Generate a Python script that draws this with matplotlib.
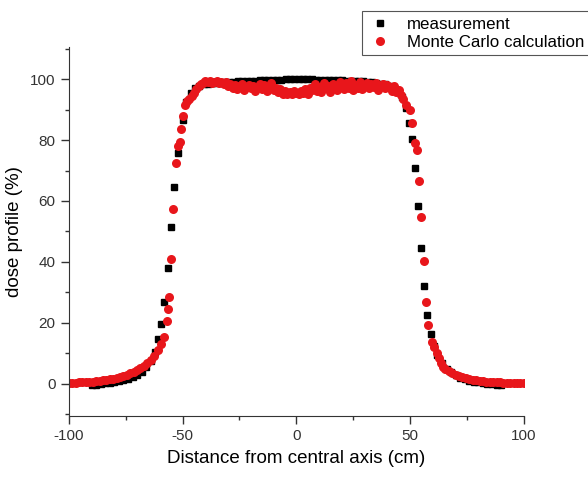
import matplotlib
matplotlib.use("Agg")
import matplotlib.pyplot as plt
from matplotlib.ticker import MultipleLocator

plt.rcParams['font.family'] = ['Liberation Sans', 'DejaVu Sans']
plt.rcParams['axes.unicode_minus'] = False

# measurement (black squares)
meas_x = [-90, -88, -86, -84, -82, -80, -78, -76, -74, -72, -70, -68, -66, -64, -62.2,
          -60.7, -59.3, -58.1, -56.6, -55.2, -53.7, -52.0, -50.0, -48.3, -46.5, -44.6,
          -42.7, -40.8, -38.9, -37.0, -35.1, -33.2, -31.3, -29.4, -27.5, -25.6, -23.7,
          -21.8, -19.9, -18.0, -16.1, -14.2, -12.3, -10.4, -8.5, -6.6, -4.7, -2.8, -0.9,
          1.0, 2.9, 4.8, 6.7, 8.6, 10.5, 12.4, 14.3, 16.2, 18.1, 20.0, 21.9, 23.8, 25.7,
          27.6, 29.5, 31.4, 33.3, 35.2, 37.1, 39.0, 40.9, 42.8, 44.7, 46.5, 48.2,
          49.6, 50.9, 52.1, 53.6, 54.9, 56.2, 57.6, 59.0, 60.5,
          62, 64, 66, 68, 70, 72, 74, 76, 78, 80, 82, 84, 86, 88, 90]
meas_y = [-0.3, -0.2, 0.0, 0.2, 0.4, 0.6, 0.9, 1.2, 1.6, 2.2, 3.0, 4.0, 5.5, 7.5, 10.5,
          14.6, 19.7, 26.8, 38.1, 51.6, 64.7, 75.6, 86.6, 92.5, 95.5, 97.2,
          97.8, 98.2, 98.4, 98.6, 98.7, 98.8, 98.9, 99.0, 99.1, 99.2, 99.3,
          99.4, 99.5, 99.5, 99.6, 99.6, 99.7, 99.7, 99.8, 99.8, 99.9, 99.9, 100.0,
          100.0, 99.9, 99.9, 99.9, 99.8, 99.8, 99.8, 99.7, 99.7, 99.6, 99.6, 99.5, 99.5, 99.4,
          99.3, 99.2, 99.0, 98.9, 98.7, 98.5, 98.2, 97.8, 97.2, 96.0, 94.0, 90.5,
          85.7, 80.3, 70.7, 58.4, 44.5, 32.2, 22.6, 16.5, 12.5,
          9.5, 7.0, 5.0, 3.8, 2.8, 2.0, 1.5, 1.1, 0.8, 0.5, 0.3, 0.1, -0.1, -0.3, -0.4]

# Monte Carlo calculation (red circles)
mc_x = [-100, -98.5, -97, -95.5, -94, -92.5, -91, -89.5, -88, -86.5, -85, -83.5, -82,
        -80.5, -79, -77.5, -76, -74.5, -73, -71.5, -70, -68.5, -67, -65.5, -64, -62.5,
        -61, -59.5,
        -58.1, -56.9, -56.4, -56.0, -55.2, -54.2, -53.1, -52.0, -51.2, -50.5, -49.8,
        -49.0, -48.0, -47.0, -46.0, -45.0, -44.0, -43.0, -42.0,
        -41, -40, -39, -38, -37, -36, -35, -34, -33, -32, -31, -30, -29, -28, -27, -26,
        -25, -24, -23, -22, -21, -20, -19, -18, -17, -16, -15, -14, -13, -12, -11, -10,
        -9, -8, -7, -6, -5, -4, -3, -2, -1, 0, 1, 2, 3, 4, 5, 6, 7, 8, 9, 10, 11, 12,
        13, 14, 15, 16, 17, 18, 19, 20, 21, 22, 23, 24, 25, 26, 27, 28, 29, 30, 31, 32,
        33, 34, 35, 36, 37, 38, 39, 40, 41, 42, 43, 44,
        45.0, 46.0, 47.0, 48.4, 49.9, 50.8, 52.1, 52.8, 54.0, 54.9, 55.9, 57.1, 58.0,
        59.4, 60.5, 61.6, 62.5, 63.5, 64.5, 65.5, 67, 68.5, 70, 71.5, 73, 74.5, 76,
        77.5, 79, 80.5, 82, 83.5, 85, 86.5, 88, 89.5, 91, 92.5, 94, 95.5, 97, 98.5, 100]
mc_y = [0.2, 0.3, 0.3, 0.5, 0.6, 0.6, 0.8, 0.8, 1.0, 1.0, 1.2, 1.3, 1.5,
        1.7, 1.9, 2.2, 2.6, 3.0, 3.5, 4.0, 4.6, 5.3, 6.0, 7.0, 8.0, 9.3,
        11.0, 13.0,
        15.5, 20.7, 24.5, 28.6, 41.0, 57.5, 72.5, 78.0, 79.5, 83.5, 88.0,
        91.5, 92.8, 93.6, 94.5, 95.5, 96.8, 97.8, 98.5,
        98.7, 99.2, 98.9, 99.3, 98.6, 99.0, 99.4, 98.8, 99.1, 98.5, 99.0, 97.8, 98.4,
        97.2, 98.0, 96.8, 97.6, 98.3, 96.5, 97.4, 98.1, 96.9, 97.8, 96.2, 97.5, 98.4,
        96.6, 97.9, 96.0, 97.3, 98.6, 96.4, 97.0, 95.6, 96.8, 95.2, 96.1, 95.0, 95.8,
        95.1, 96.2, 95.3, 95.0, 96.0, 95.4, 96.7, 95.2, 97.1, 96.3, 98.2, 96.0, 97.4,
        95.8, 98.8, 96.9, 97.8, 95.9, 98.5, 97.0, 96.3, 99.0, 97.5, 96.6, 98.6, 97.2,
        99.3, 96.4, 98.0, 97.0, 98.9, 96.7, 97.8, 98.6, 96.9, 98.2, 97.4, 98.8, 96.5,
        97.6, 98.3, 96.9, 98.0, 97.3, 96.2, 97.6, 95.8,
        96.5, 94.8, 93.6, 91.5, 89.8, 85.5, 78.9, 76.7, 66.6, 54.9, 40.3, 26.8, 19.3,
        13.9, 12.0, 10.2, 8.6, 7.0, 5.7, 5.0, 4.2, 3.6, 3.0, 2.6, 2.2, 1.9, 1.6,
        1.4, 1.2, 1.0, 0.9, 0.8, 0.7, 0.6, 0.5, 0.5, 0.4, 0.4, 0.3, 0.3, 0.3, 0.2, 0.2]

fig = plt.figure(figsize=(5.88, 4.78), dpi=100)
ax = fig.add_axes([0.117, 0.1297, 0.774, 0.772])

ax.plot(meas_x, meas_y, ls='none', marker='s', ms=5, color='black', label='measurement')
ax.plot(mc_x, mc_y, ls='none', marker='o', ms=6.5, color='#e8161b', markeredgewidth=0,
        label='Monte Carlo calculation')

ax.set_xlim(-100, 100)
ax.set_ylim(-10.5, 110.5)
ax.xaxis.set_major_locator(MultipleLocator(50))
ax.xaxis.set_minor_locator(MultipleLocator(25))
ax.yaxis.set_major_locator(MultipleLocator(20))
ax.yaxis.set_minor_locator(MultipleLocator(10))
ax.tick_params(which='major', direction='out', length=6, width=1, labelsize=11, colors='#333333')
ax.tick_params(which='minor', direction='out', length=3, width=1, colors='#333333')
ax.spines['top'].set_visible(False)
ax.spines['right'].set_visible(False)
for s in ('left', 'bottom'):
    ax.spines[s].set_color('#333333')

ax.set_xlabel('Distance from central axis (cm)', fontsize=13.5, labelpad=5)
ax.set_ylabel('dose profile (%)', fontsize=13.5, labelpad=5)

leg = fig.legend(loc='upper left', bbox_to_anchor=(0.615, 0.976), fontsize=12.2,
                 borderaxespad=0, fancybox=False, framealpha=1, edgecolor='#555555',
                 borderpad=0.3, handletextpad=0.75, labelspacing=0.2, handlelength=1.6)
leg.get_frame().set_linewidth(0.8)

fig.savefig('out.png', dpi=100)
